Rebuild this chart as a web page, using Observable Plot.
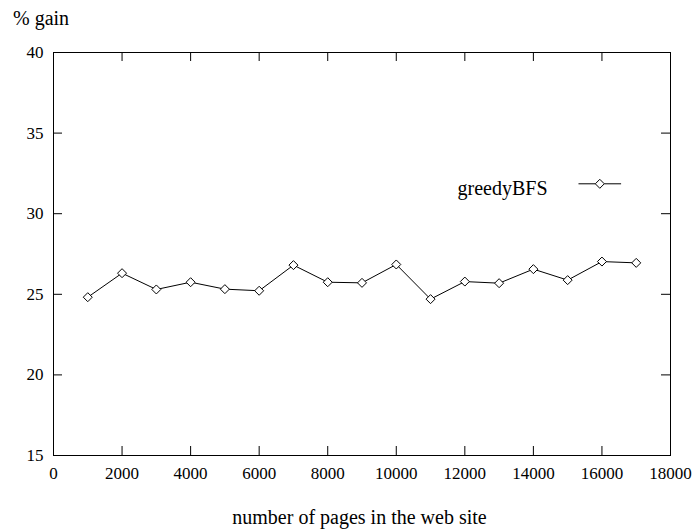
<!DOCTYPE html>
<html>
<head>
<meta charset="utf-8">
<script src="https://cdn.jsdelivr.net/npm/d3@7"></script>
<script src="https://cdn.jsdelivr.net/npm/@observablehq/plot@0.6"></script>
<style>
  html, body { margin: 0; padding: 0; background: #fff; }
  #chart svg { display: block; }
  #chart svg, #chart svg text, #chart svg g { font-family: "Liberation Serif", Tinos, "Times New Roman", Times, "DejaVu Serif", serif !important; }
</style>
</head>
<body>
<div id="chart"></div>
<script>
// ---- data ----
const pages = [1000, 2000, 3000, 4000, 5000, 6000, 7000, 8000, 9000, 10000, 11000, 12000, 13000, 14000, 15000, 16000, 17000];
const gain = [24.82, 26.31, 25.30, 25.75, 25.32, 25.22, 26.81, 25.75, 25.71, 26.85, 24.70, 25.79, 25.69, 26.56, 25.88, 27.03, 26.95];
const seriesName = "greedyBFS";
const xTicks = [0, 2000, 4000, 6000, 8000, 10000, 12000, 14000, 16000, 18000];
const yTicks = [15, 20, 25, 30, 35, 40];
const yLabel = "% gain";
const xLabel = "number of pages in the web site";

const data = pages.map((p, i) => ({pages: p, gain: gain[i]}));

// ---- layout ----
const W = 694, H = 531;
const mL = 53, mR = 24, mT = 52, mB = 76;
const innerW = W - mL - mR, innerH = H - mT - mB;
const tickLen = 9;
const FONT = "Liberation Serif, Tinos, Times New Roman, Times, DejaVu Serif, serif";

const diamond = {
  draw(ctx) {
    const h = 4.5;
    ctx.moveTo(0, -h); ctx.lineTo(h, 0); ctx.lineTo(0, h); ctx.lineTo(-h, 0); ctx.closePath();
  }
};
const legendGlyph = {
  draw(ctx) {
    const h = 4.5, L = 21.3;
    ctx.moveTo(-L, 0); ctx.lineTo(-h, 0);
    ctx.moveTo(h, 0); ctx.lineTo(L, 0);
    ctx.moveTo(0, -h); ctx.lineTo(h, 0); ctx.lineTo(0, h); ctx.lineTo(-h, 0); ctx.closePath();
  }
};

const chart = Plot.plot({
  width: W,
  height: H,
  marginLeft: mL,
  marginRight: mR,
  marginTop: mT,
  marginBottom: mB,
  style: {fontFamily: FONT, color: "#000", background: "#fff"},
  x: {domain: [0, 18000]},
  y: {domain: [15, 40]},
  marks: [
    Plot.frame({stroke: "#000", strokeWidth: 1}),
    // inward ticks on all four sides
    Plot.tickX(xTicks, {x: d => d, insetTop: innerH - tickLen, stroke: "#000"}),
    Plot.tickX(xTicks, {x: d => d, insetBottom: innerH - tickLen, stroke: "#000"}),
    Plot.tickY(yTicks, {y: d => d, insetRight: innerW - tickLen, stroke: "#000"}),
    Plot.tickY(yTicks, {y: d => d, insetLeft: innerW - tickLen, stroke: "#000"}),
    Plot.axisX({ticks: xTicks, tickSize: 0, tickPadding: 11, fontSize: 17, fontFamily: FONT, label: null, tickFormat: d => String(d)}),
    Plot.axisY({ticks: yTicks, tickSize: 0, tickPadding: 10, fontSize: 17, fontFamily: FONT, label: null, tickFormat: d => String(d)}),
    Plot.line(data, {x: "pages", y: "gain", stroke: "#000", strokeWidth: 1}),
    Plot.dot(data, {x: "pages", y: "gain", symbol: diamond, r: 4, fill: "#fff", stroke: "#000", strokeWidth: 1}),
    // legend
    Plot.text([seriesName], {frameAnchor: "top-right", dx: -123, dy: 136, text: d => d, textAnchor: "end", lineAnchor: "middle", fontSize: 20, fontFamily: FONT, fill: "#000"}),
    Plot.dot([seriesName], {frameAnchor: "top-right", dx: -70.7, dy: 131.3, symbol: legendGlyph, r: 4, fill: "#fff", stroke: "#000", strokeWidth: 1}),
    // axis titles
    Plot.text([yLabel], {frameAnchor: "top-left", dx: -40.5, dy: -34, text: d => d, textAnchor: "start", lineAnchor: "middle", fontSize: 20, fontFamily: FONT, fill: "#000"}),
    Plot.text([xLabel], {frameAnchor: "bottom", dx: -2.5, dy: 62, text: d => d, textAnchor: "middle", lineAnchor: "middle", fontSize: 20, fontFamily: FONT, fill: "#000"})
  ]
});

document.getElementById("chart").appendChild(chart);
</script>
</body>
</html>
